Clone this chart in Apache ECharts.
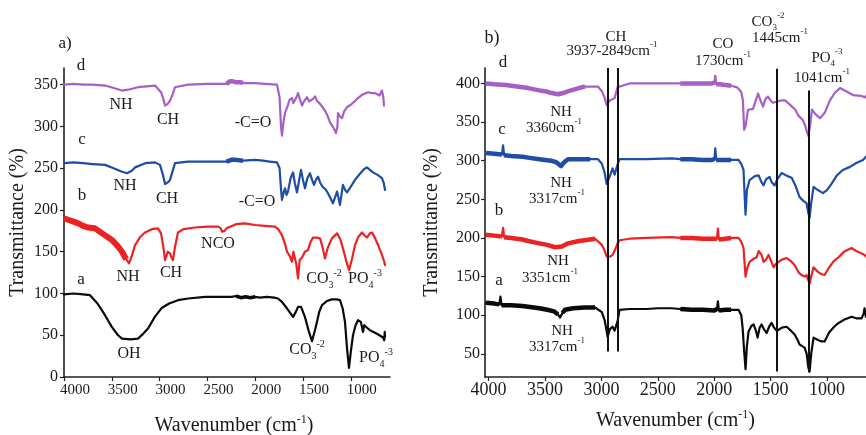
<!DOCTYPE html>
<html>
<head>
<meta charset="utf-8">
<script src="https://cdn.jsdelivr.net/npm/echarts@6/dist/echarts.min.js"></script>
<style>
  html, body { margin: 0; padding: 0; background: #fff; }
  #chart { width: 866px; height: 435px; }
</style>
</head>
<body>
<div id="chart"></div>
<script>
// FTIR spectra, wavenumber (cm-1) against transmittance (%), traces stacked with offsets.

const leftTicksX = [4000, 3500, 3000, 2500, 2000, 1500, 1000];
const leftTicksY = [0, 50, 100, 150, 200, 250, 300, 350];
const rightTicksX = [4000, 3500, 3000, 2500, 2000, 1500, 1000];
const rightTicksY = [50, 100, 150, 200, 250, 300, 350, 400];

// Panel a) traces: [wavenumber, transmittance]
const leftA = [[4000,99],[3900,100],[3800,99],[3728,98],[3650,88],[3571,74],[3500,60],[3435,50],[3393,46],[3300,45],[3226,46],[3170,52],[3121,58],[3050,72],[2975,83],[2900,88],[2808,92],[2700,94],[2525,96],[2400,96],[2250,96],[2200,97],[2150,95],[2100,96],[2050,95],[2000,96],[1950,95],[1877,96],[1800,95],[1762,94],[1720,90],[1667,82],[1604,72],[1575,78],[1552,84],[1520,84],[1480,72],[1440,55],[1406,43],[1370,58],[1330,78],[1301,86],[1250,91],[1197,93],[1150,93],[1113,92],[1085,82],[1061,66],[1040,35],[1019,11],[1000,30],[977,50],[950,62],[925,68],[895,66],[883,66],[872,54],[860,62],[851,60],[800,56],[747,53],[700,50],[660,47],[650,44],[645,54],[642,48]];
const leftB = [[4000,190],[3950,188],[3900,186],[3850,184],[3800,181],[3750,179],[3676,178],[3600,172],[3498,164],[3440,157],[3393,150],[3350,141],[3320,136],[3290,145],[3257,158],[3200,168],[3153,173],[3080,177],[3017,178],[2985,172],[2960,155],[2943,140],[2915,150],[2891,148],[2875,143],[2860,140],[2840,155],[2808,173],[2750,177],[2630,179],[2500,180],[2389,180],[2360,178],[2347,174],[2320,175],[2300,178],[2200,183],[2107,184],[2000,182],[1900,181],[1793,180],[1760,177],[1720,170],[1690,160],[1667,150],[1640,145],[1615,138],[1600,150],[1584,152],[1570,135],[1552,118],[1535,140],[1510,143],[1480,150],[1448,152],[1420,162],[1395,167],[1360,167],[1322,166],[1295,155],[1270,142],[1240,155],[1197,166],[1144,172],[1110,165],[1082,154],[1050,140],[1019,128],[990,140],[956,158],[920,168],[883,173],[860,170],[831,167],[800,172],[778,173],[745,166],[715,158],[680,148],[650,138],[642,134]];
const leftC = [[4000,256],[3900,257],[3800,256],[3700,255],[3571,254],[3480,250],[3400,246],[3341,244],[3290,247],[3257,251],[3150,256],[3048,257],[2996,254],[2965,242],[2943,231],[2915,233],[2891,236],[2860,248],[2839,256],[2703,258],[2500,258],[2300,258],[2250,260],[2200,260],[2128,259],[2000,260],[1918,259],[1850,258],[1772,257],[1745,250],[1730,225],[1720,212],[1700,222],[1688,226],[1672,218],[1657,222],[1630,238],[1604,245],[1585,232],[1563,221],[1540,236],[1521,248],[1500,236],[1479,226],[1455,238],[1427,244],[1405,236],[1385,230],[1365,236],[1343,240],[1318,232],[1291,227],[1265,225],[1239,220],[1212,214],[1187,208],[1165,215],[1144,222],[1128,214],[1113,206],[1098,218],[1082,230],[1060,224],[1040,221],[1000,228],[956,236],[900,244],[860,249],[831,251],[800,248],[768,245],[720,242],[674,238],[655,232],[642,224]];
const leftD = [[4000,350],[3900,351],[3800,350],[3700,350],[3571,349],[3480,346],[3393,343],[3330,344],[3226,347],[3048,349],[2985,341],[2960,333],[2943,325],[2915,327],[2891,331],[2865,338],[2839,347],[2703,350],[2500,351],[2300,351],[2265,354],[2235,354],[2200,353],[2160,353],[2128,352],[2000,352],[1900,351],[1772,350],[1745,335],[1730,300],[1720,289],[1705,305],[1688,316],[1660,325],[1640,332],[1615,334],[1600,328],[1584,326],[1565,336],[1552,340],[1530,332],[1510,325],[1490,330],[1458,335],[1435,330],[1416,328],[1395,333],[1374,336],[1350,330],[1322,327],[1295,323],[1270,319],[1240,312],[1218,305],[1190,300],[1170,296],[1155,292],[1140,300],[1134,316],[1115,312],[1092,310],[1070,318],[1040,323],[1000,326],[960,330],[925,334],[880,338],[820,341],[780,340],[747,340],[700,337],[674,343],[660,335],[653,325]];

// Panel b) traces: [wavenumber, transmittance]
const rightA = [[4023,116],[3950,115],[3905,114],[3895,124],[3885,113],[3800,113],[3700,112],[3651,111],[3550,109],[3480,107],[3420,105],[3385,101],[3367,97],[3345,103],[3323,107],[3250,109],[3150,110],[3056,110],[2996,104],[2972,94],[2954,80],[2945,72],[2925,82],[2901,85],[2883,80],[2875,79],[2857,92],[2839,107],[2750,108],[2600,108],[2500,109],[2378,109],[2300,108],[2200,107],[2100,107],[2000,106],[1975,108],[1967,118],[1958,106],[1900,107],[1850,107],[1784,107],[1760,100],[1748,84],[1735,55],[1722,30],[1710,60],[1695,79],[1670,86],[1651,88],[1630,80],[1615,71],[1597,84],[1580,88],[1560,82],[1535,77],[1510,86],[1491,90],[1470,84],[1447,80],[1429,81],[1400,84],[1358,85],[1320,80],[1287,75],[1260,68],[1243,62],[1220,60],[1199,58],[1180,50],[1165,32],[1154,27],[1140,50],[1119,71],[1080,68],[1048,66],[1021,66],[980,78],[930,86],[897,90],[850,94],[782,98],[740,96],[693,96],[675,102],[667,109],[655,98]];
const rightB = [[4023,204],[3950,203],[3882,202],[3872,213],[3862,201],[3800,200],[3700,198],[3651,196],[3550,193],[3480,191],[3411,188],[3350,189],[3296,193],[3200,196],[3100,198],[3056,199],[2996,191],[2972,184],[2954,176],[2945,174],[2920,176],[2901,178],[2875,186],[2857,193],[2839,197],[2750,199],[2600,200],[2378,201],[2300,200],[2200,200],[2100,199],[2000,199],[1975,199],[1967,212],[1958,198],[1900,199],[1850,200],[1784,200],[1760,195],[1740,187],[1722,150],[1705,162],[1686,169],[1660,172],[1624,175],[1605,183],[1597,185],[1580,178],[1562,169],[1540,172],[1518,178],[1495,170],[1473,162],[1455,166],[1429,169],[1400,172],[1358,174],[1320,170],[1287,165],[1250,155],[1225,152],[1199,150],[1181,152],[1165,145],[1154,141],[1140,150],[1119,162],[1080,156],[1048,153],[1021,152],[980,162],[940,170],[897,175],[850,182],[782,187],[740,183],[693,180],[667,178],[655,176]];
const rightC = [[4023,310],[3950,309],[3882,308],[3872,320],[3862,307],[3800,306],[3700,305],[3651,304],[3550,302],[3447,300],[3400,298],[3358,293],[3330,298],[3296,302],[3200,302],[3100,302],[3030,302],[2996,296],[2972,285],[2954,270],[2945,268],[2925,280],[2901,290],[2883,282],[2875,281],[2857,295],[2839,302],[2750,302],[2600,302],[2378,303],[2300,302],[2200,302],[2100,301],[2020,301],[1998,302],[1990,316],[1982,301],[1950,301],[1900,301],[1850,301],[1784,301],[1760,296],[1740,288],[1730,255],[1722,230],[1710,262],[1686,275],[1640,280],[1606,281],[1580,272],[1562,268],[1540,276],[1509,279],[1490,272],[1464,268],[1440,276],[1402,284],[1350,280],[1313,278],[1280,268],[1243,253],[1210,248],[1181,245],[1165,232],[1154,226],[1140,245],[1119,266],[1080,262],[1036,258],[1000,262],[960,270],[912,281],[860,288],[796,292],[740,297],[681,301],[655,305]];
const rightD = [[4023,400],[3950,399],[3850,398],[3750,396],[3651,394],[3550,391],[3500,390],[3450,388],[3385,386],[3330,388],[3269,391],[3200,394],[3145,396],[3030,396],[2996,390],[2972,382],[2954,372],[2945,372],[2925,378],[2910,378],[2883,381],[2857,395],[2750,400],[2600,400],[2378,400],[2300,400],[2200,400],[2100,400],[2020,400],[1998,401],[1990,410],[1982,399],[1950,399],[1900,398],[1850,397],[1797,395],[1760,389],[1745,378],[1735,340],[1722,345],[1700,366],[1656,367],[1611,387],[1590,378],[1567,370],[1545,380],[1523,383],[1500,378],[1479,375],[1434,377],[1400,378],[1372,378],[1340,374],[1310,370],[1280,366],[1257,359],[1230,355],[1212,352],[1190,344],[1177,337],[1165,332],[1150,345],[1133,366],[1100,360],[1062,355],[1020,362],[974,378],[930,388],[885,394],[830,390],[770,385],[700,384],[663,382],[649,385]];

// Noisy stretches of each trace, drawn heavier: [from, to] in cm-1 (isolated spikes left thin)
const noisyLeftA = [[2200, 2000]];
const noisyLeftB = [[4000, 3340]];
const noisyLeftC = [[2300, 2128]];
const noisyLeftD = [[2300, 2128]];
const noisyRightA = [[4023, 3905], [3885, 3385], [3345, 3040], [2300, 1975], [1958, 1850]];
const noisyRightB = [[4023, 3882], [3862, 3040], [2300, 1975], [1958, 1850]];
const noisyRightC = [[4023, 3882], [3862, 3040], [2300, 1998], [1982, 1850]];
const noisyRightD = [[4023, 3040], [2300, 1998], [1982, 1850]];

// Band marker lines in panel b): wavenumber and [top, bottom] transmittance
const bandLines = [2945, 2857, 1722, 1447, 1160];
const bandSpans = [[420, 53], [420, 53], [421, 27], [419, 27], [391, 26]];

const FONT = "'Liberation Serif', 'Times New Roman', serif";
const INK = '#1a1a1a';
const COLORS = { a: '#0a0a0a', b: '#ec2222', c: '#1f4ca6', d: '#a55fc6' };

function axisCommon(ticks, labelSize, margin, extraLabel) {
  return {
    splitLine: { show: false },
    axisLine: { show: true, onZero: false, lineStyle: { color: '#222', width: 1.6 } },
    axisTick: { show: true, length: 4, customValues: ticks, lineStyle: { color: '#222', width: 1.2 } },
    axisLabel: Object.assign({
      customValues: ticks, fontFamily: FONT, fontSize: labelSize, color: INK, margin: margin,
      formatter: function (v) { return String(v); }
    }, extraLabel || {})
  };
}

const xNameStyle = {
  fontFamily: FONT, fontSize: 20, color: INK,
  rich: {
    t: { fontFamily: FONT, fontSize: 20, lineHeight: 24, color: INK },
    s: { fontFamily: FONT, fontSize: 12, lineHeight: 12, verticalAlign: 'top', color: INK }
  }
};
const yNameStyle = { fontFamily: FONT, fontSize: 20, color: INK };

function trace(data, color, xi, width, cap) {
  return {
    type: 'line', data: data, xAxisIndex: xi, yAxisIndex: xi,
    showSymbol: false, symbol: 'none', smooth: false, silent: true,
    lineStyle: { color: color, width: width || 2.2, join: 'round', cap: cap || 'round' }
  };
}

// Heavier overlay for the stretches where the recorded signal is noisy
function noisy(data, ranges, color, xi, width) {
  return ranges.map(function (r) {
    const part = data.filter(function (p) { return p[0] <= r[0] && p[0] >= r[1]; });
    return trace(part, color, xi, width, 'butt');
  });
}

function rich(size) {
  const small = Math.round(size * 0.62);
  return {
    n: { fontSize: size, fontFamily: FONT, lineHeight: size + 6, fill: INK },
    sp: { fontSize: small, fontFamily: FONT, lineHeight: small, verticalAlign: 'top', fill: INK },
    sb: { fontSize: small, fontFamily: FONT, lineHeight: small, verticalAlign: 'bottom', fill: INK }
  };
}

// Text annotations: [x, y, rich text, font size]
const notes = [
  [65, 44, '{n|a)}', 17],
  [81, 66, '{n|d}', 17], [82, 140, '{n|c}', 17], [82, 196, '{n|b}', 17], [81, 280, '{n|a}', 17],
  [121, 105, '{n|NH}', 16], [168, 120, '{n|CH}', 16], [253, 123, '{n|-C=O}', 16],
  [125, 186, '{n|NH}', 16], [167, 199, '{n|CH}', 16], [257, 202, '{n|-C=O}', 16],
  [128, 277, '{n|NH}', 16], [171, 273, '{n|CH}', 16], [218, 244, '{n|NCO}', 16],
  [324, 279, '{n|CO}{sb|3}{sp|-2}', 16], [365, 279, '{n|PO}{sb|4}{sp|-3}', 16],
  [129, 354, '{n|OH}', 16], [307, 350, '{n|CO}{sb|3}{sp|-2}', 16], [376, 358, '{n|PO}{sb|4}{sp|-3}', 16],
  [492, 38, '{n|b)}', 18],
  [616, 37, '{n|CH}', 15], [612, 51, '{n|3937-2849cm}{sp|-1}', 15],
  [723, 44, '{n|CO}', 15], [723, 61, '{n|1730cm}{sp|-1}', 15],
  [768, 22, '{n|CO}{sb|3}{sp|-2}', 15], [780, 38, '{n|1445cm}{sp|-1}', 15],
  [827, 58, '{n|PO}{sb|4}{sp|-3}', 15], [822, 78, '{n|1041cm}{sp|-1}', 15],
  [503, 63, '{n|d}', 17], [502, 130, '{n|c}', 17], [499, 211, '{n|b}', 17], [499, 281, '{n|a}', 17],
  [561, 112, '{n|NH}', 15], [554, 128, '{n|3360cm}{sp|-1}', 15],
  [561, 183, '{n|NH}', 15], [557, 199, '{n|3317cm}{sp|-1}', 15],
  [558, 261, '{n|NH}', 15], [550, 278, '{n|3351cm}{sp|-1}', 15],
  [562, 331, '{n|NH}', 15], [557, 347, '{n|3317cm}{sp|-1}', 15]
];

const graphics = notes.map(function (n) {
  return {
    type: 'text', x: n[0], y: n[1], silent: true, z: 10,
    style: {
      text: n[2], rich: rich(n[3]), fill: INK,
      font: n[3] + 'px ' + FONT,
      textAlign: 'center', textVerticalAlign: 'middle',
      align: 'center', verticalAlign: 'middle'
    }
  };
});

const markerSeries = {
  type: 'line', data: [], xAxisIndex: 1, yAxisIndex: 1, silent: true,
  markLine: {
    symbol: ['none', 'none'], silent: true, animation: false,
    label: { show: false },
    lineStyle: { color: '#111', width: 2, type: 'solid' },
    emphasis: { disabled: true },
    data: bandLines.map(function (w, i) {
      return [{ coord: [w, bandSpans[i][0]] }, { coord: [w, bandSpans[i][1]] }];
    })
  }
};

const series = [].concat(
  [trace(leftD, COLORS.d, 0)], noisy(leftD, noisyLeftD, COLORS.d, 0, 4.5),
  [trace(leftC, COLORS.c, 0)], noisy(leftC, noisyLeftC, COLORS.c, 0, 4.5),
  [trace(leftB, COLORS.b, 0)], noisy(leftB, noisyLeftB, COLORS.b, 0, 6),
  [trace(leftA, COLORS.a, 0)], noisy(leftA, noisyLeftA, COLORS.a, 0, 3.5),
  [trace(rightD, COLORS.d, 1)], noisy(rightD, noisyRightD, COLORS.d, 1, 4.5),
  [trace(rightC, COLORS.c, 1)], noisy(rightC, noisyRightC, COLORS.c, 1, 4.5),
  [trace(rightB, COLORS.b, 1)], noisy(rightB, noisyRightB, COLORS.b, 1, 4.5),
  [trace(rightA, COLORS.a, 1)], noisy(rightA, noisyRightA, COLORS.a, 1, 4.5),
  [markerSeries]
);

const option = {
  animation: false,
  backgroundColor: '#ffffff',
  grid: [
    { left: 64, top: 68, width: 326, height: 309, containLabel: false, outerBoundsMode: 'none' },
    { left: 485, top: 68, width: 381, height: 309, containLabel: false, outerBoundsMode: 'none' }
  ],
  xAxis: [
    Object.assign({
      type: 'value', gridIndex: 0, min: 590, max: 4000, inverse: true,
      name: '{t|Wavenumber (cm}{s|-1}{t|)}', nameLocation: 'middle', nameGap: 37,
      nameTextStyle: Object.assign({ padding: [0, 0, 0, 14] }, xNameStyle)
    }, axisCommon(leftTicksX, 15, 6, { padding: [0, 0, 0, 22] })),
    Object.assign({
      type: 'value', gridIndex: 1, min: 654, max: 4032, inverse: true,
      name: '{t|Wavenumber (cm}{s|-1}{t|)}', nameLocation: 'middle', nameGap: 32,
      nameTextStyle: xNameStyle
    }, axisCommon(rightTicksX, 18, 4))
  ],
  yAxis: [
    Object.assign({
      type: 'value', gridIndex: 0, min: 0, max: 370,
      name: 'Transmittance (%)', nameLocation: 'middle', nameGap: 36, nameRotate: 90,
      nameTextStyle: yNameStyle
    }, axisCommon(leftTicksY, 16, 6)),
    Object.assign({
      type: 'value', gridIndex: 1, min: 20, max: 420,
      name: 'Transmittance (%)', nameLocation: 'middle', nameGap: 43, nameRotate: 90,
      nameTextStyle: yNameStyle
    }, axisCommon(rightTicksY, 16, 5))
  ],
  series: series,
  graphic: graphics
};

const chart = echarts.init(document.getElementById('chart'), null, { renderer: 'canvas' });
chart.setOption(option);
</script>
</body>
</html>
